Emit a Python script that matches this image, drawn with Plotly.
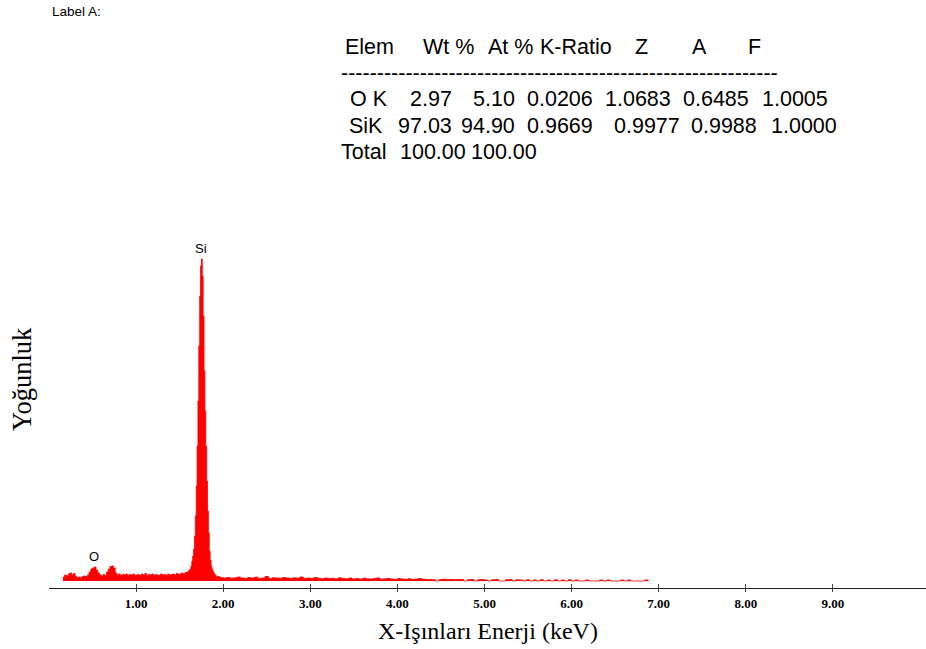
import numpy as np
import plotly.graph_objects as go

# ---------------- data ----------------
# EDS spectrum, counts (1 px ~ 10 counts)
# segment A: 0.16 .. 1.60 keV, step 0.02
seg_a_start, seg_a_step = 0.16, 0.02
seg_a_counts = [40, 60, 50, 70, 80, 60, 75, 45,
                35, 40, 30, 45, 50, 45, 60, 90, 120, 130,
                140, 110, 80, 60, 50, 65, 55, 90, 120, 145,
                150, 130, 80, 60, 70, 55, 65, 60, 70, 55,
                65, 60, 70, 55, 60, 65, 55, 70, 60, 75,
                55, 65, 60, 70, 55, 65, 60, 55, 70, 60,
                65, 55, 70, 60, 65, 70, 60, 75, 65, 70,
                80, 70, 85, 90, 100]
# segment B: Si K peak, 1.61 .. 1.90 keV, step 0.01
seg_b_start, seg_b_step = 1.61, 0.01
seg_b_counts = [110, 120, 150, 200, 250, 320, 450, 650, 950, 1350,
                1800, 2350, 2850, 3150, 3220, 3050, 2650, 2100, 1700, 1350,
                1000, 700, 480, 300, 210, 150, 120, 100, 80, 60]
# segment C: 1.92 .. 4.28 keV, step 0.04
seg_c_start, seg_c_step = 1.92, 0.04
seg_c_counts = [45, 35, 30, 35, 28, 32, 40, 30, 25, 35,
                30, 38, 28, 30, 45, 25, 32, 30, 28, 35,
                30, 25, 32, 28, 40, 26, 30, 25, 35, 28,
                22, 30, 25, 28, 20, 32, 25, 22, 30, 20,
                25, 18, 28, 22, 20, 25, 30, 18, 22, 25,
                20, 15, 25, 20, 18, 22, 15, 20, 25, 18]
# segment D: sparse tail 4.32 .. 6.88 keV, step 0.04
seg_d_start, seg_d_step = 4.32, 0.04
seg_d_counts = [15, 15, 12, 0, 15, 18, 15, 15, 12, 15,
                15, 0, 12, 15, 0, 12, 15, 10, 0, 12,
                15, 0, 0, 12, 15, 0, 12, 10, 0, 12,
                0, 10, 0, 12, 0, 10, 0, 12, 0, 10,
                0, 12, 0, 10, 0, 0, 10, 0, 0, 0,
                10, 0, 10, 0, 0, 0, 10, 0, 10, 0,
                0, 0, 0, 10, 0]

peak_labels = ["O", "Si"]
peak_energies = [0.52, 1.75]

tick_values = [1, 2, 3, 4, 5, 6, 7, 8, 9]
tick_labels = ["1.00", "2.00", "3.00", "4.00", "5.00", "6.00", "7.00", "8.00", "9.00"]

table_header = ["Elem", "Wt %", "At %", "K-Ratio", "Z", "A", "F"]
table_elements = ["O K", "SiK"]
wt_pct = ["2.97", "97.03"]
at_pct = ["5.10", "94.90"]
k_ratio = ["0.0206", "0.9669"]
z_factor = ["1.0683", "0.9977"]
a_factor = ["0.6485", "0.9988"]
f_factor = ["1.0005", "1.0000"]
total_row = ["Total", "100.00", "100.00"]

x_title = "X-Işınları Enerji (keV)"
y_title = "Yoğunluk"
label_text = "Label A:"

# ---------------- build ----------------
def seg(start, step, counts):
    e = start + step * np.arange(len(counts))
    return list(np.round(e, 3)), list(counts)

energy, counts = [], []
for s, st, c in [(seg_a_start, seg_a_step, seg_a_counts),
                 (seg_b_start, seg_b_step, seg_b_counts),
                 (seg_c_start, seg_c_step, seg_c_counts),
                 (seg_d_start, seg_d_step, seg_d_counts)]:
    e, v = seg(s, st, c)
    energy += e
    counts += v

W, H = 926, 649
L, R, T, B = 49, 926, 230, 588
YMIN = -70
YMAX = YMIN + (B - T) * 10


def px(xp):
    return (xp - L) / (R - L)


def py(yp):
    return (B - yp) / (B - T)


fig = go.Figure()
fig.add_trace(go.Scatter(
    x=energy, y=counts, mode="lines", line=dict(color="#ff0000", width=0.8, shape="hv"),
    fill="tozeroy", fillcolor="#ff0000", hoverinfo="skip", showlegend=False))
# helper trace so the overlay axis (inner tick marks) is drawn
fig.add_trace(go.Scatter(x=[tick_values[0]], y=[YMIN], xaxis="x2", mode="markers",
                         marker=dict(opacity=0), hoverinfo="skip", showlegend=False))

sans = "Liberation Sans, Arial, sans-serif"
serif = "Liberation Serif, Times New Roman, serif"
ann = []

# peak labels
for lab, en in zip(peak_labels, peak_energies):
    idx = int(np.argmin(np.abs(np.array(energy) - en)))
    if lab == "Si":
        top = max(counts)
    else:
        top = max(counts[max(0, idx - 2): idx + 3])
    ann.append(dict(x=en, y=top, xref="x", yref="y", text=lab, showarrow=False,
                    yanchor="bottom", yshift=1, font=dict(family=sans, size=13, color="#000")))

ann.append(dict(x=px(50), y=py(12), xref="paper", yref="paper", text=label_text,
                showarrow=False, xanchor="left", yanchor="middle",
                font=dict(family=sans, size=13.5, color="#000")))

tfont = dict(family=sans, size=21.5, color="#000")
header_cx = [369, 448, 510, 576, 641, 699, 754]
for t, cx in zip(table_header, header_cx):
    ann.append(dict(x=px(cx), y=py(47), xref="paper", yref="paper", text=t, showarrow=False,
                    xanchor="center", yanchor="middle", font=tfont))
ann.append(dict(x=px(339), y=py(73), xref="paper", yref="paper", text="-" * 61, showarrow=False,
                xanchor="left", yanchor="middle", font=tfont))
row_cx = [[369, 431, 494, 560, 638, 716, 795],
          [366, 425, 488, 560, 647, 724, 804]]
row_cy = [99, 126]
for i in range(len(table_elements)):
    vals = [table_elements[i], wt_pct[i], at_pct[i], k_ratio[i], z_factor[i], a_factor[i], f_factor[i]]
    for t, cx in zip(vals, row_cx[i]):
        ann.append(dict(x=px(cx), y=py(row_cy[i]), xref="paper", yref="paper", text=t,
                        showarrow=False, xanchor="center", yanchor="middle", font=tfont))
for t, cx in zip(total_row, [363, 433, 504]):
    ann.append(dict(x=px(cx), y=py(152), xref="paper", yref="paper", text=t, showarrow=False,
                    xanchor="center", yanchor="middle", font=tfont))

ann.append(dict(x=px(488), y=py(631), xref="paper", yref="paper", text=x_title, showarrow=False,
                xanchor="center", yanchor="middle", font=dict(family=serif, size=24, color="#000")))
ann.append(dict(x=px(22), y=py(379), xref="paper", yref="paper", text=y_title, showarrow=False,
                textangle=-90, xanchor="center", yanchor="middle",
                font=dict(family=serif, size=26.5, color="#000")))

xr = [0, (R - L) / 87.1]
fig.update_layout(
    width=W, height=H, margin=dict(l=L, r=W - R, t=T, b=H - B, pad=0),
    paper_bgcolor="white", plot_bgcolor="white",
    xaxis=dict(range=xr, showgrid=False, zeroline=False, showline=True, linecolor="#222",
               linewidth=1, ticks="outside", ticklen=3, tickcolor="#444", tickwidth=1,
               tickvals=tick_values, ticktext=tick_labels,
               tickfont=dict(family=serif, size=13, color="#000", weight="bold")),
    xaxis2=dict(range=xr, overlaying="x", matches="x", showgrid=False, zeroline=False,
                showline=False, ticks="inside", ticklen=4, tickcolor="#444", tickwidth=1,
                tickvals=tick_values, showticklabels=False, side="bottom"),
    yaxis=dict(range=[YMIN, YMAX], showgrid=False, zeroline=False, showline=False,
               showticklabels=False, ticks=""),
    annotations=ann,
)
fig.write_html("out.html", config={"displayModeBar": False},
               post_script="document.body.style.margin='0';document.body.style.padding='0';"
                           "document.body.style.overflow='hidden';")
